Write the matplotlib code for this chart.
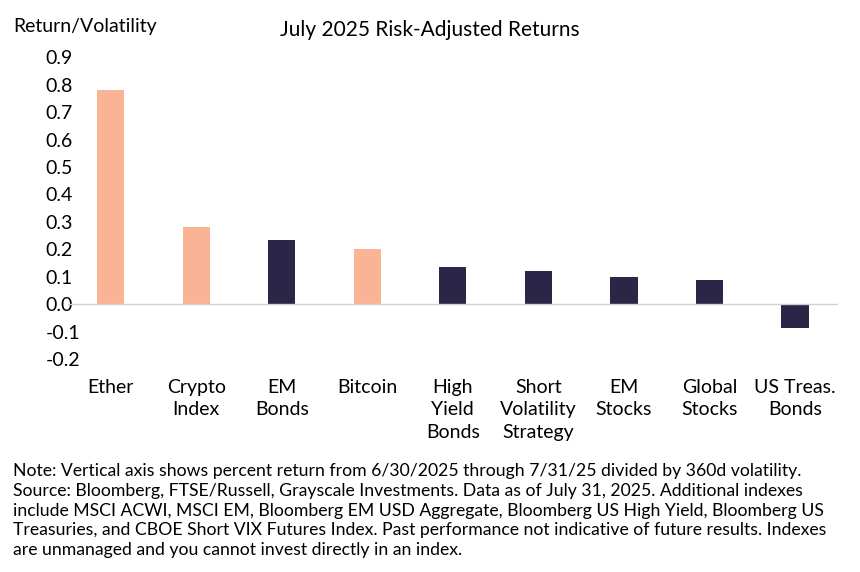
import matplotlib
matplotlib.use("Agg")
import matplotlib.pyplot as plt

categories = ["Ether", "Crypto\nIndex", "EM\nBonds", "Bitcoin", "High\nYield\nBonds",
              "Short\nVolatility\nStrategy", "EM\nStocks", "Global\nStocks", "US Treas.\nBonds"]
values = [0.78, 0.28, 0.235, 0.20, 0.137, 0.122, 0.10, 0.087, -0.085]
is_crypto = [True, True, False, True, False, False, False, False, False]
yticks = [0.9, 0.8, 0.7, 0.6, 0.5, 0.4, 0.3, 0.2, 0.1, 0.0, -0.1, -0.2]

peach = "#FBB396"
navy = "#2B2647"
plt.rcParams["font.family"] = "Lato"

fig = plt.figure(figsize=(8.6, 5.72), dpi=100)
ax = fig.add_axes([0.079, 0.372, 0.895, 0.528])
colors = [peach if c else navy for c in is_crypto]
x = range(len(categories))
ax.bar(x, values, width=0.32, color=colors)
ax.set_ylim(-0.2, 0.9)
ax.set_xlim(-0.5, len(categories) - 0.5)
ax.set_yticks(yticks)
ax.set_yticklabels([f"{t:.1f}" for t in yticks], fontsize=14)
ax.set_xticks(list(x))
ax.set_xticklabels(categories, fontsize=14, va="top", linespacing=1.4)
ax.tick_params(length=0, pad=16)
ax.tick_params(axis="x", pad=14)
for lbl in ax.get_yticklabels():
    lbl.set_horizontalalignment("left")
for s in ax.spines.values():
    s.set_visible(False)
ax.axhline(0, color="#d0d0d0", lw=1)

fig.text(0.015, 0.968, "Return/Volatility", fontsize=14, va="top")
fig.text(0.5, 0.965, "July 2025 Risk-Adjusted Returns", fontsize=15, ha="center", va="top")
note = ("Note: Vertical axis shows percent return from 6/30/2025 through 7/31/25 divided by 360d volatility.\n"
        "Source: Bloomberg, FTSE/Russell, Grayscale Investments. Data as of July 31, 2025. Additional indexes\n"
        "include MSCI ACWI, MSCI EM, Bloomberg EM USD Aggregate, Bloomberg US High Yield, Bloomberg US\n"
        "Treasuries, and CBOE Short VIX Futures Index. Past performance not indicative of future results. Indexes\n"
        "are unmanaged and you cannot invest directly in an index.")
fig.text(0.015, 0.19, note, fontsize=12.7, va="top", linespacing=1.28)
fig.savefig("out.png")
